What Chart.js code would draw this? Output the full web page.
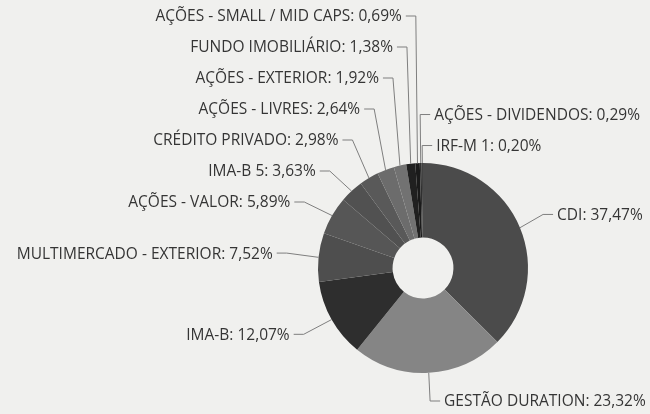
<!DOCTYPE html>
<html>
<head>
<meta charset="utf-8">
<script src="https://cdn.jsdelivr.net/npm/chart.js@4/dist/chart.umd.min.js"></script>
<style>
    html, body { margin: 0; padding: 0; background: #f0f0ee; }
    #wrap { width: 650px; height: 414px; position: relative; }
</style>
</head>
<body>
<div id="wrap"><canvas id="chart"></canvas></div>
<script>
// Allocation by asset class (%), clockwise from 12 o'clock.
const categories = [
    "CDI",
    "GESTÃO DURATION",
    "IMA-B",
    "MULTIMERCADO - EXTERIOR",
    "AÇÕES - VALOR",
    "IMA-B 5",
    "CRÉDITO PRIVADO",
    "AÇÕES - LIVRES",
    "AÇÕES - EXTERIOR",
    "FUNDO IMOBILIÁRIO",
    "AÇÕES - SMALL / MID CAPS",
    "AÇÕES - DIVIDENDOS",
    "IRF-M 1",
];
const shares = [37.47, 23.32, 12.07, 7.52, 5.89, 3.63, 2.98, 2.64, 1.92, 1.38, 0.69, 0.29, 0.20];
const sliceColors = [
    "#4b4b4b", "#858585", "#2e2e2e", "#4e4e4e", "#565656", "#515151", "#595959",
    "#6c6c6c", "#727272", "#202020", "#1a1a1a", "#303030", "#424242",
];

/**
 * Formats a share the way the source does: "NAME: 12,34%".
 */
function labelText(i) {
    return categories[i] + ": " + shares[i].toFixed(2).replace(".", ",") + "%";
}

/**
 * Spreads labels of one side so they don't overlap.
 * items must be ordered top to bottom, each with a target y.
 */
function spread(items, gap, top, bottom) {
    const n = items.length;
    if (!n) return;
    // push up from the bottom, then down from the top
    items[n - 1].y = Math.min(items[n - 1].t, bottom);
    for (let i = n - 2; i >= 0; i--) {
        items[i].y = Math.min(items[i].t, items[i + 1].y - gap);
    }
    items[0].y = Math.max(items[0].y, top);
    for (let i = 1; i < n; i++) {
        items[i].y = Math.max(items[i].y, items[i - 1].y + gap);
    }
    // clusters that float free of the bounds get centred on their targets
    let s = 0;
    while (s < n) {
        let e = s;
        while (e + 1 < n && items[e + 1].y - items[e].y <= gap + 0.5) e++;
        const touches = items[s].y <= top + 0.5 || items[e].y >= bottom - 0.5;
        if (e > s && !touches) {
            const want = (items[s].t + items[e].t) / 2;
            const have = (items[s].y + items[e].y) / 2;
            let shift = want - have;
            const lo = s > 0 ? items[s - 1].y + gap - items[s].y : top - items[s].y;
            const hi = e < n - 1 ? items[e + 1].y - gap - items[e].y : bottom - items[e].y;
            shift = Math.max(lo, Math.min(hi, shift));
            for (let k = s; k <= e; k++) items[k].y += shift;
        }
        s = e + 1;
    }
}

const outsideLabels = {
    id: "outsideLabels",
    afterDatasetsDraw(chart) {
        const ctx = chart.ctx;
        const arcs = chart.getDatasetMeta(0).data;
        const labelRadius = 137;
        // the right-hand column sits a little closer in than the left one
        const reach = { left: 137, right: 130 };
        const left = [];
        const right = [];

        arcs.forEach((arc, i) => {
            const p = arc.getProps(["x", "y", "startAngle", "endAngle", "outerRadius"], true);
            let mid = (p.startAngle + p.endAngle) / 2;
            const item = {
                i: i,
                ax: p.x + p.outerRadius * Math.cos(mid),
                ay: p.y + p.outerRadius * Math.sin(mid),
                t: p.y + labelRadius * Math.sin(mid),
            };
            // slices sitting right at 12 o'clock go to the right-hand column
            if (Math.cos(mid) > -0.03) {
                if (mid > Math.PI) mid -= 2 * Math.PI;
                item.a = mid;
                item.bx = p.x + reach.right * Math.cos(mid);
                right.push(item);
            } else {
                item.a = mid;
                item.bx = p.x + reach.left * Math.cos(mid);
                left.push(item);
            }
        });

        right.sort((a, b) => a.a - b.a);
        left.sort((a, b) => b.a - a.a);
        spread(left, 31, 17, 402);
        spread(right, 31, 17, 402);

        ctx.save();
        ctx.font = "15.5px 'Open Sans'";
        ctx.textBaseline = "middle";
        ctx.lineWidth = 1;
        ctx.strokeStyle = "#7e7e7e";
        ctx.fillStyle = "#353535";

        const draw = (item, dir) => {
            const bx = item.bx;
            const ly = item.y;
            ctx.beginPath();
            ctx.moveTo(item.ax, item.ay);
            ctx.lineTo(bx, ly - 1);
            ctx.lineTo(bx + dir * 10, ly - 1);
            ctx.stroke();
            ctx.textAlign = dir > 0 ? "left" : "right";
            ctx.fillText(labelText(item.i), bx + dir * 14, ly);
        };
        left.forEach((item) => draw(item, -1));
        right.forEach((item) => draw(item, 1));
        ctx.restore();
    },
};

new Chart(document.getElementById("chart"), {
    type: "doughnut",
    data: {
        labels: categories,
        datasets: [
            {
                data: shares,
                backgroundColor: sliceColors,
                borderWidth: 0,
            },
        ],
    },
    options: {
        responsive: true,
        maintainAspectRatio: false,
        animation: false,
        cutout: "29%",
        layout: {
            padding: { left: 318, top: 163, right: 122, bottom: 41 },
        },
        plugins: {
            legend: { display: false },
            tooltip: { enabled: false },
        },
    },
    plugins: [outsideLabels],
});
</script>
</body>
</html>
